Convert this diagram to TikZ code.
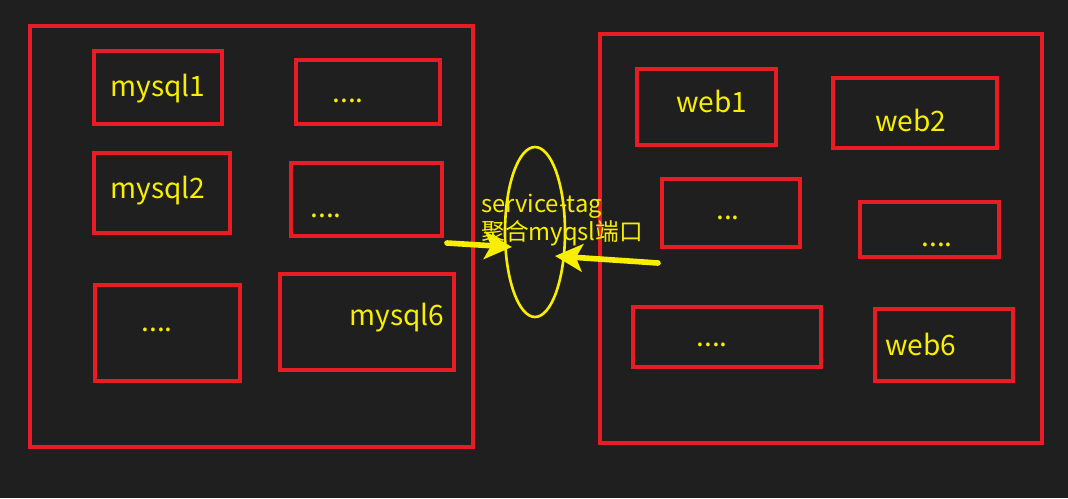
\documentclass[tikz,border=0pt]{standalone}
\usepackage{fontspec}
\setmainfont{Noto Sans CJK SC}
\usetikzlibrary{shapes.geometric,arrows.meta}
\definecolor{bgdark}{HTML}{1F1F1F}
\definecolor{boxred}{HTML}{E81C24}
\definecolor{tagyellow}{HTML}{F7EE00}
\tikzset{
  box/.style={draw=boxred, line width=2pt, inner sep=0pt},
  lbl/.style={text=tagyellow, font=\fontsize{16}{19}\selectfont, inner sep=0pt},
  taglbl/.style={text=tagyellow, font=\fontsize{13.5}{16}\selectfont, inner sep=0pt, anchor=base west},
  link/.style={draw=tagyellow, line width=3.2pt, line cap=round, -{Stealth[length=0.55cm,width=0.55cm,inset=0.13cm]}}
}
\begin{document}
\begin{tikzpicture}[x=0.02cm,y=-0.02cm]
  \fill[bgdark] (0,0) rectangle (1068,498);
  \node[box, minimum width=8.86cm, minimum height=8.42cm] (left)  at (251.5,236.5) {};
  \node[box, minimum width=8.84cm, minimum height=8.18cm] (right) at (821,238.5) {};
  \node[box, minimum width=2.56cm, minimum height=1.46cm] (m1) at (158,87.5) {};
  \node[box, minimum width=2.88cm, minimum height=1.28cm] (d1) at (368,92) {};
  \node[box, minimum width=2.72cm, minimum height=1.6cm]  (m2) at (162,193) {};
  \node[box, minimum width=3.02cm, minimum height=1.46cm] (d2) at (366.5,199.5) {};
  \node[box, minimum width=2.9cm,  minimum height=1.92cm] (d3) at (167.5,333) {};
  \node[box, minimum width=3.48cm, minimum height=1.92cm] (m6) at (367,322) {};
  \node[box, minimum width=2.78cm, minimum height=1.52cm] (w1) at (706.5,107) {};
  \node[box, minimum width=3.28cm, minimum height=1.4cm]  (w2) at (915,113) {};
  \node[box, minimum width=2.76cm, minimum height=1.36cm] (d4) at (731,213) {};
  \node[box, minimum width=2.78cm, minimum height=1.1cm]  (d5) at (929.5,229.5) {};
  \node[box, minimum width=3.76cm, minimum height=1.2cm]  (d6) at (727,337) {};
  \node[box, minimum width=2.76cm, minimum height=1.44cm] (w6) at (944,345) {};
  \node[lbl] (m1t) at (158,89) {mysql1};
  \node[lbl] (d1t) at (348,101) {....};
  \node[lbl] (m2t) at (158,191) {mysql2};
  \node[lbl] (d2t) at (326,216) {....};
  \node[lbl] (d3t) at (157,330) {....};
  \node[lbl] (m6t) at (397,318) {mysql6};
  \node[lbl] (w1t) at (712,101) {web1};
  \node[lbl] (w2t) at (911,120) {web2};
  \node[lbl] (d4t) at (728,218) {...};
  \node[lbl] (d5t) at (937,245) {....};
  \node[lbl] (d6t) at (712,345) {....};
  \node[lbl] (w6t) at (921,344) {web6};
  \node[draw=tagyellow, line width=1.5pt, ellipse, minimum width=1.2cm, minimum height=3.4cm] (tag) at (535,232) {};
  \node[taglbl] (tagt1) at (481,212) {service-tag};
  \node[taglbl] (tagt2) at (481,240) {聚合myqsl端口};
  \coordinate (a1s) at (447,243);
  \coordinate (a1e) at (512,247);
  \coordinate (a2s) at (658,263);
  \coordinate (a2e) at (555,256);
  \draw[link] (a1s) -- (a1e);
  \draw[link] (a2s) -- (a2e);
\end{tikzpicture}
\end{document}
